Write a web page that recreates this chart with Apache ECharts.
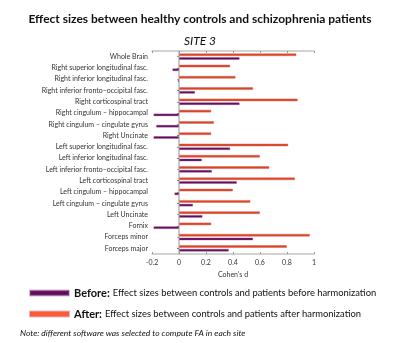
<!DOCTYPE html>
<html>
<head>
<meta charset="utf-8">
<script src="https://cdn.jsdelivr.net/npm/echarts@6/dist/echarts.min.js"></script>
<style>
  html, body { margin: 0; padding: 0; background: #fff; }
  #chart { width: 400px; height: 343px; }
</style>
</head>
<body>
<div id="chart"></div>
<script>
const tracts = [
  'Whole Brain',
  'Right superior longitudinal fasc.',
  'Right inferior longitudinal fasc.',
  'Right inferior fronto–occipital fasc.',
  'Right corticospinal tract',
  'Right cingulum – hippocampal',
  'Right cingulum – cingulate gyrus',
  'Right Uncinate',
  'Left superior longitudinal fasc.',
  'Left inferior longitudinal fasc.',
  'Left inferior fronto–occipital fasc.',
  'Left corticospinal tract',
  'Left cingulum – hippocampal',
  'Left cingulum – cingulate gyrus',
  'Left Uncinate',
  'Fornix',
  'Forceps minor',
  'Forceps major'
]
const afterVals = [0.87, 0.38, 0.42, 0.55, 0.88, 0.24, 0.26, 0.24, 0.81, 0.60, 0.67, 0.86, 0.40, 0.53, 0.60, 0.24, 0.97, 0.80]
const beforeVals = [0.45, -0.05, -0.01, 0.12, 0.45, -0.19, -0.17, -0.19, 0.38, 0.17, 0.245, 0.43, -0.035, 0.105, 0.175, -0.19, 0.55, 0.37]
const xTicks = [-0.2, 0, 0.2, 0.4, 0.6, 0.8, 1]

const myChart = echarts.init(document.getElementById('chart'))
const fontFam = 'Lato, "Open Sans", sans-serif'
const frame = { show: true, lineStyle: { color: '#c4c4c4', width: 1.5 } }

const option = {
  animation: false,
  textStyle: { fontFamily: fontFam },
  title: [
    {
      text: 'Effect sizes between healthy controls and schizophrenia patients',
      left: 'center',
      top: 8,
      textStyle: { fontSize: 12, fontWeight: 'bold', color: '#111', fontFamily: fontFam }
    },
    {
      text: 'SITE 3',
      left: 'center',
      top: 30,
      textStyle: { fontSize: 12, fontWeight: 'normal', fontStyle: 'italic', color: '#111', fontFamily: fontFam }
    },
    {
      text: 'Note: different software was selected to compute FA in each site',
      left: 15,
      top: 324,
      textStyle: { fontSize: 8.5, fontWeight: 'normal', fontStyle: 'italic', color: '#111', fontFamily: fontFam }
    }
  ],
  legend: {
    orient: 'vertical',
    left: 29,
    top: 287,
    padding: 0,
    itemWidth: 39,
    itemHeight: 5,
    itemGap: 9,
    icon: 'rect',
    data: [
      { name: 'Before', itemStyle: { color: '#5e0c5e' } },
      { name: 'After', itemStyle: { color: '#ff5a36' } }
    ],
    formatter: (name) => {
      const desc = name === 'Before'
        ? 'Effect sizes between controls and patients before harmonization'
        : 'Effect sizes between controls and patients after harmonization'
      return `{b|${name}:} {n|${desc}}`
    },
    textStyle: {
      rich: {
        b: { fontSize: 11, fontWeight: 'bold', color: '#111', fontFamily: fontFam },
        n: { fontSize: 9.4, color: '#111', fontFamily: fontFam }
      }
    }
  },
  grid: { left: 152, right: 86, top: 51, bottom: 89 },
  xAxis: [
    {
      type: 'value',
      min: -0.2,
      max: 1,
      interval: 0.2,
      name: "Cohen's d",
      nameLocation: 'middle',
      nameGap: 17,
      nameTextStyle: { fontSize: 7, color: '#333' },
      axisLine: frame,
      axisTick: { show: true, inside: true, length: 2, lineStyle: { color: '#999' } },
      axisLabel: {
        fontSize: 7,
        color: '#333',
        margin: 5,
        formatter: (v) => {
          const t = xTicks.find(x => Math.abs(x - v) < 1e-6)
          return t === undefined ? '' : String(t)
        }
      },
      splitLine: { show: false }
    },
    {
      type: 'value',
      position: 'top',
      min: -0.2,
      max: 1,
      interval: 0.2,
      axisLine: frame,
      axisTick: { show: true, inside: true, length: 2, lineStyle: { color: '#999' } },
      axisLabel: { show: false },
      splitLine: { show: false }
    }
  ],
  yAxis: [
    {
      type: 'category',
      inverse: true,
      data: tracts,
      axisLine: frame,
      axisTick: { show: true, inside: false, length: 2, alignWithLabel: true, lineStyle: { color: '#777' } },
      axisLabel: { fontSize: 7, color: '#333', margin: 4, interval: 0 }
    },
    {
      type: 'category',
      inverse: true,
      position: 'right',
      data: tracts,
      axisLine: frame,
      axisTick: { show: true, inside: true, length: 2, alignWithLabel: true, lineStyle: { color: '#999' } },
      axisLabel: { show: false }
    }
  ],
  series: [
    {
      name: 'After',
      type: 'bar',
      data: afterVals,
      barWidth: 3,
      barGap: '25%',
      itemStyle: { color: '#d8461d', borderColor: 'rgba(220,90,90,0.45)', borderWidth: 1 }
    },
    {
      name: 'Before',
      type: 'bar',
      data: beforeVals,
      barWidth: 3,
      itemStyle: { color: '#5e0c5e', borderColor: 'rgba(160,80,140,0.4)', borderWidth: 1 }
    }
  ]
}

myChart.setOption(option)
</script>
</body>
</html>
